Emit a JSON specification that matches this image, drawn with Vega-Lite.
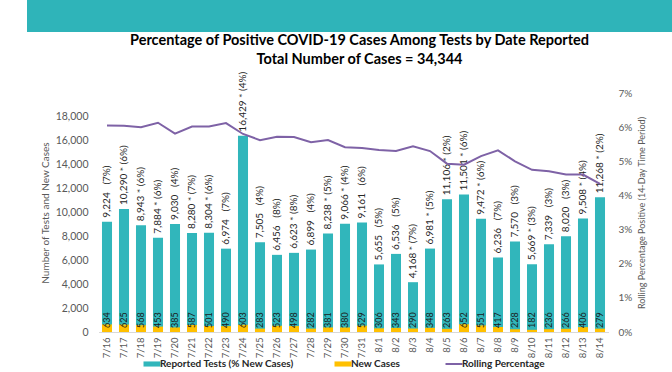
{
  "$schema": "https://vega.github.io/schema/vega-lite/v6.json",
  "background": "white",
  "padding": {"left": 27, "top": 0, "right": 0, "bottom": 0},
  "bounds": "flush",
  "center": true,
  "spacing": 61,
  "resolve": {"scale": {"color": "independent"}, "legend": {"color": "independent"}},
  "config": {
    "font": "Lato",
    "view": {"stroke": null},
    "axisLeft": {"labelFontSize": 10.5, "labelColor": "#595959", "titleFontSize": 10, "titleFontWeight": "normal", "titleColor": "#595959", "domain": false, "ticks": false, "grid": false, "labelPadding": 10.5, "titlePadding": 5},
    "axisRight": {"labelFontSize": 10, "labelColor": "#595959", "titleFontSize": 9, "titleFontWeight": "normal", "titleColor": "#595959", "domain": false, "ticks": false, "grid": false, "labelPadding": 9.5, "titleAngle": 270, "titleBaseline": "top", "titleAlign": "center", "titleX": 29, "titleY": 119.5},
    "axisBottom": {"labelFontSize": 9.5, "labelColor": "#595959", "labelAngle": 270, "domain": true, "domainColor": "#d9d9d9", "ticks": false, "grid": false, "labelPadding": 5},
    "title": {"font": "Lato", "fontSize": 14.5, "fontWeight": "bold", "color": "#000000", "lineHeight": 19.5}
  },
  "vconcat": [
    {
      "width": 653,
      "height": 32,
      "view": {"fill": "#2fb4b9", "stroke": null},
      "data": {"values": [{"band": "header"}]},
      "mark": {"type": "rect", "color": "#2fb4b9"},
      "encoding": {}
    },
    {
      "width": 510,
      "height": 239,
      "title": {"text": ["Percentage of Positive COVID-19 Cases Among Tests by Date Reported", "Total Number of Cases = 34,344"], "anchor": "middle", "dx": 6, "offset": 4},
      "data": {"values": [
        {"date": "7/16", "tests": 9224, "cases": 634, "label": "9,224\u00a0\u00a0\u00a0(7%)", "rolling": 0.0605},
        {"date": "7/17", "tests": 10290, "cases": 625, "label": "10,290 * (6%)", "rolling": 0.0604},
        {"date": "7/18", "tests": 8943, "cases": 568, "label": "8,943 * (6%)", "rolling": 0.0600},
        {"date": "7/19", "tests": 7884, "cases": 453, "label": "7,884 * (6%)", "rolling": 0.0613},
        {"date": "7/20", "tests": 9030, "cases": 385, "label": "9,030\u00a0\u00a0\u00a0(4%)", "rolling": 0.0581},
        {"date": "7/21", "tests": 8280, "cases": 587, "label": "8,280 * (7%)", "rolling": 0.0602},
        {"date": "7/22", "tests": 8304, "cases": 501, "label": "8,304 * (6%)", "rolling": 0.0602},
        {"date": "7/23", "tests": 6974, "cases": 490, "label": "6,974\u00a0\u00a0\u00a0(7%)", "rolling": 0.0612},
        {"date": "7/24", "tests": 16429, "cases": 603, "label": "16,429 * (4%)", "rolling": 0.0580},
        {"date": "7/25", "tests": 7505, "cases": 283, "label": "7,505\u00a0\u00a0\u00a0(4%)", "rolling": 0.0562},
        {"date": "7/26", "tests": 6456, "cases": 523, "label": "6,456\u00a0\u00a0\u00a0(8%)", "rolling": 0.0572},
        {"date": "7/27", "tests": 6623, "cases": 498, "label": "6,623 * (8%)", "rolling": 0.0571},
        {"date": "7/28", "tests": 6899, "cases": 282, "label": "6,899\u00a0\u00a0\u00a0(4%)", "rolling": 0.0556},
        {"date": "7/29", "tests": 8238, "cases": 381, "label": "8,238 * (5%)", "rolling": 0.0562},
        {"date": "7/30", "tests": 9066, "cases": 380, "label": "9,066 * (4%)", "rolling": 0.0541},
        {"date": "7/31", "tests": 9161, "cases": 529, "label": "9,161\u00a0\u00a0\u00a0(6%)", "rolling": 0.0539},
        {"date": "8/1", "tests": 5655, "cases": 306, "label": "5,655\u00a0\u00a0\u00a0(5%)", "rolling": 0.0533},
        {"date": "8/2", "tests": 6536, "cases": 343, "label": "6,536\u00a0\u00a0\u00a0(5%)", "rolling": 0.0530},
        {"date": "8/3", "tests": 4168, "cases": 290, "label": "4,168 * (7%)", "rolling": 0.0544},
        {"date": "8/4", "tests": 6981, "cases": 348, "label": "6,981 * (5%)", "rolling": 0.0530},
        {"date": "8/5", "tests": 11106, "cases": 263, "label": "11,106 * (2%)", "rolling": 0.0493},
        {"date": "8/6", "tests": 11501, "cases": 652, "label": "11,501 * (6%)", "rolling": 0.0490},
        {"date": "8/7", "tests": 9472, "cases": 551, "label": "9,472 * (6%)", "rolling": 0.0515},
        {"date": "8/8", "tests": 6236, "cases": 417, "label": "6,236\u00a0\u00a0\u00a0(7%)", "rolling": 0.0532},
        {"date": "8/9", "tests": 7570, "cases": 228, "label": "7,570\u00a0\u00a0\u00a0(3%)", "rolling": 0.0500},
        {"date": "8/10", "tests": 5669, "cases": 182, "label": "5,669 * (3%)", "rolling": 0.0475},
        {"date": "8/11", "tests": 7339, "cases": 236, "label": "7,339\u00a0\u00a0\u00a0(3%)", "rolling": 0.0471},
        {"date": "8/12", "tests": 8020, "cases": 266, "label": "8,020\u00a0\u00a0\u00a0(3%)", "rolling": 0.0461},
        {"date": "8/13", "tests": 9508, "cases": 406, "label": "9,508 * (4%)", "rolling": 0.0461},
        {"date": "8/14", "tests": 11268, "cases": 279, "label": "11,268 * (2%)", "rolling": 0.0434}
      ]},
      "encoding": {
        "x": {"field": "date", "type": "ordinal", "sort": null, "title": null, "scale": {"paddingInner": 0.41, "paddingOuter": 0.205}}
      },
      "layer": [
        {
          "layer": [
            {
              "mark": {"type": "bar"},
              "encoding": {
                "y": {"field": "tests", "type": "quantitative", "title": "Number of Tests and New Cases", "scale": {"domain": [0, 20000], "nice": false}, "axis": {"values": [0, 2000, 4000, 6000, 8000, 10000, 12000, 14000, 16000, 18000], "format": ",d"}},
                "color": {
                  "datum": "Reported Tests (% New Cases)",
                  "type": "nominal",
                  "scale": {"domain": ["Reported Tests (% New Cases)", "New Cases", "Rolling Percentage"], "range": ["#31b6bb", "#ffc000", "#7e62a6"]},
                  "legend": {
                    "orient": "none", "legendX": 48.5, "legendY": 266, "direction": "horizontal", "title": null,
                    "symbolType": "M-1,-0.3H1V0.3H-1Z", "symbolSize": 289, "columnPadding": 40, "labelOffset": 3,
                    "labelFontSize": 10, "labelFontWeight": "bold", "labelColor": "#262626",
                    "encode": {"symbols": {"update": {
                      "shape": {"signal": "datum.value === 'Rolling Percentage' ? 'M-1,0H1' : 'M-1,-0.3H1V0.3H-1Z'"},
                      "fill": {"signal": "datum.value === 'Rolling Percentage' ? 'transparent' : (datum.value === 'New Cases' ? '#ffc000' : '#31b6bb')"},
                      "stroke": {"signal": "datum.value === 'Rolling Percentage' ? '#7e62a6' : 'transparent'"},
                      "strokeWidth": {"signal": "datum.value === 'Rolling Percentage' ? 2 : 0"}
                    }}}
                  }
                }
              }
            },
            {
              "mark": {"type": "bar"},
              "encoding": {
                "y": {"field": "cases", "type": "quantitative", "title": "Number of Tests and New Cases", "scale": {"domain": [0, 20000], "nice": false}, "axis": {"values": [0, 2000, 4000, 6000, 8000, 10000, 12000, 14000, 16000, 18000], "format": ",d"}},
                "color": {"datum": "New Cases", "type": "nominal"}
              }
            },
            {
              "mark": {"type": "text", "angle": 270, "align": "left", "baseline": "middle", "dx": 4, "fontSize": 10, "color": "#262626"},
              "encoding": {
                "y": {"field": "tests", "type": "quantitative", "title": "Number of Tests and New Cases", "scale": {"domain": [0, 20000], "nice": false}, "axis": {"values": [0, 2000, 4000, 6000, 8000, 10000, 12000, 14000, 16000, 18000], "format": ",d"}},
                "text": {"field": "label", "type": "nominal"}
              }
            },
            {
              "mark": {"type": "text", "angle": 270, "align": "left", "baseline": "middle", "dx": 4, "fontSize": 9, "color": "#1a1a1a"},
              "encoding": {
                "y": {"datum": 0, "type": "quantitative", "title": "Number of Tests and New Cases", "scale": {"domain": [0, 20000], "nice": false}, "axis": {"values": [0, 2000, 4000, 6000, 8000, 10000, 12000, 14000, 16000, 18000], "format": ",d"}},
                "text": {"field": "cases", "type": "quantitative", "format": "d"}
              }
            }
          ]
        },
        {
          "mark": {"type": "line", "strokeWidth": 2},
          "encoding": {
            "y": {"field": "rolling", "type": "quantitative", "title": "Rolling Percentage Positive (14-Day Time Period)", "scale": {"domain": [0, 0.07], "nice": false}, "axis": {"orient": "right", "format": ".0%", "values": [0, 0.01, 0.02, 0.03, 0.04, 0.05, 0.06, 0.07]}},
            "color": {"datum": "Rolling Percentage", "type": "nominal"}
          }
        }
      ],
      "resolve": {"scale": {"y": "independent"}}
    }
  ]
}
